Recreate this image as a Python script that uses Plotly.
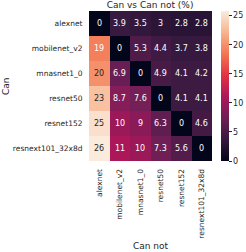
import plotly.graph_objects as go

models = ["alexnet", "mobilenet_v2", "mnasnet1_0", "resnet50", "resnet152", "resnext101_32x8d"]
can_vs_cannot = [
    [0, 3.9, 3.5, 3, 2.8, 2.8],
    [19, 0, 5.3, 4.4, 3.7, 3.8],
    [20, 6.9, 0, 4.9, 4.1, 4.2],
    [23, 8.7, 7.6, 0, 4.1, 4.1],
    [25, 10, 9, 6.3, 0, 4.6],
    [25.8, 11, 10, 7.3, 5.6, 0],
]
cbar_ticks = [0, 5, 10, 15, 20, 25]

rocket = [
    [0.0, "#03051a"],
    [0.143, "#35193e"],
    [0.286, "#701f57"],
    [0.429, "#ad1759"],
    [0.571, "#e13342"],
    [0.714, "#f37651"],
    [0.857, "#f6b48f"],
    [1.0, "#faebdd"],
]

font = "DejaVu Sans"
fig = go.Figure(go.Heatmap(
    z=can_vs_cannot, x=models, y=models,
    colorscale=rocket, zmin=0,
    colorbar=dict(
        thickness=8, len=1, lenmode="fraction", x=1.07, xanchor="left",
        y=0.5, yanchor="middle", outlinewidth=0, xpad=0, ypad=0,
        tickvals=cbar_ticks, ticks="outside", ticklen=3, tickcolor="#262626",
        tickfont=dict(family=font, size=8, color="#262626"),
    ),
    hoverinfo="skip",
))

annotations = []
for i, row_name in enumerate(models):
    for j, col_name in enumerate(models):
        v = can_vs_cannot[i][j]
        annotations.append(dict(
            x=col_name, y=row_name, xref="x", yref="y",
            text=f"{v:.2g}",
            showarrow=False,
            font=dict(family=font, size=8, color="#262626" if v >= 19.5 else "#ffffff"),
        ))
annotations.append(dict(text="Can not", x=0.5, xref="paper", y=0, yref="paper",
                        yanchor="middle", yshift=-(246 - 161),
                        showarrow=False, font=dict(family=font, size=9, color="#262626")))
annotations.append(dict(text="Can", x=0, xref="paper", y=0.5, yref="paper", textangle=-90,
                        xanchor="center", xshift=-(89 - 6),
                        showarrow=False, font=dict(family=font, size=9, color="#262626")))

fig.update_layout(
    width=246, height=252,
    margin=dict(l=89, r=34, t=11, b=91, autoexpand=False),
    paper_bgcolor="white", plot_bgcolor="white",
    font=dict(family=font, size=8, color="#262626"),
    title=dict(text="Can vs Can not (%)", x=0.61, xanchor="center", y=0.995, yanchor="top",
               font=dict(family=font, size=9, color="#262626")),
    annotations=annotations,
    xaxis=dict(tickangle=-90, ticks="outside", ticklen=4, tickcolor="rgba(0,0,0,0)",
               tickfont=dict(family=font, size=7.5), automargin=False,
               showgrid=False, zeroline=False),
    yaxis=dict(autorange="reversed", ticks="outside", ticklen=4, tickcolor="rgba(0,0,0,0)",
               tickfont=dict(family=font, size=7.5), automargin=False,
               showgrid=False, zeroline=False),
)

fig.write_html("out.html", config={"displayModeBar": False},
               post_script="document.body.style.margin='0';")
